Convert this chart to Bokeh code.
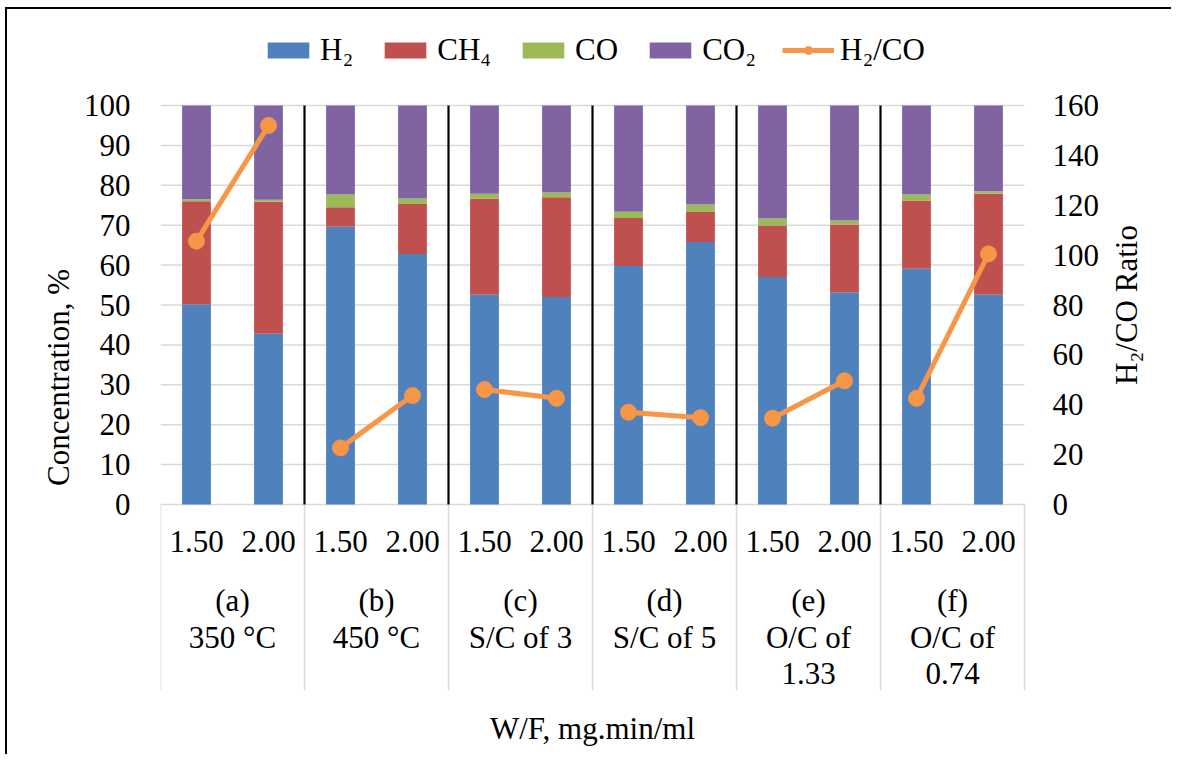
import math
from bokeh.plotting import figure
from bokeh.models import (Range1d, FixedTicker, ColumnDataSource,
                          Legend, LegendItem)
from bokeh.core.properties import value
from bokeh.embed import file_html
from bokeh.resources import INLINE

# ---------------- data ----------------
groups = ["(a)\n350 °C", "(b)\n450 °C", "(c)\nS/C of 3", "(d)\nS/C of 5",
          "(e)\nO/C of\n1.33", "(f)\nO/C of\n0.74"]
wf_labels = ["1.50", "2.00"]
h2 = [50.2, 42.8, 69.6, 62.8, 52.6, 52.0, 59.8, 65.8, 57.0, 53.2, 59.1, 52.6]
ch4 = [25.8, 33.1, 4.9, 12.5, 24.0, 25.0, 12.0, 7.5, 12.9, 17.0, 17.1, 25.3]
co = [0.5, 0.5, 3.2, 1.4, 1.3, 1.2, 1.6, 1.9, 1.8, 1.0, 1.5, 0.6]
co2 = [23.5, 23.6, 22.3, 23.3, 22.1, 21.8, 26.6, 24.8, 28.3, 28.8, 22.3, 21.5]
h2_co_ratio = [105.6, 152.0, 22.7, 43.7, 46.1, 42.6, 37.0, 34.8, 34.6, 49.6, 42.6, 100.5]
conc_ticks = list(range(0, 101, 10))
ratio_ticks = list(range(0, 161, 20))
ratio_title = "H₂/CO Ratio"
x_title = "W/F, mg.min/ml"

# ---------------- layout constants ----------------
FONT = "Liberation Serif"
FS = "31px"
GRID = "#d9d9d9"
W, H = 1171, 754                      # a little inside the 1177x760 window
FRAME_LEFT = 160
PLOT_RIGHT = 1024                     # right edge of the bar area
TABLE_BOTTOM = 690
FRAME_W = W - FRAME_LEFT
FRAME_H = H
PX_TOP, PX_ZERO = 105, 504            # page rows of 100 % and 0 %
ppu = (PX_ZERO - PX_TOP) / 100.0
y_max = 100 + PX_TOP / ppu
y_min = -(H - PX_ZERO) / ppu
ratio_scale = 160 / 100.0

n_groups = len(groups)
n_sub = len(wf_labels)
n_bars = n_groups * n_sub
xs = [i + 0.5 for i in range(n_bars)]
ppx = (PLOT_RIGHT - FRAME_LEFT) / n_bars   # pixels per category
x_max = n_bars + (W - PLOT_RIGHT) / ppx


def px_to_y(py):
    return (PX_ZERO - py) / ppu


def px_to_x(px):
    return (px - FRAME_LEFT) / ppx


p = figure(frame_width=FRAME_W, frame_height=FRAME_H,
           min_border_left=FRAME_LEFT, min_border_right=0,
           min_border_top=0, min_border_bottom=0,
           x_range=Range1d(0, x_max), y_range=Range1d(y_min, y_max),
           x_axis_location=None,
           output_backend="svg", toolbar_location=None)
# outer chart border (left and top edges), drawn behind the transparent canvas
p.styles = {"box-shadow": "inset 5px 7px 0 0 #fff, inset 7px 9px 0 0 #000",
            "background-color": "#fff"}
p.extra_y_ranges = {"ratio": Range1d(y_min * ratio_scale, y_max * ratio_scale)}
p.outline_line_color = None
p.background_fill_alpha = 0
p.border_fill_alpha = 0
p.xgrid.visible = False
p.ygrid.visible = False

# horizontal grid lines (0..100 %) over the bar area only
p.segment(x0=[0] * len(conc_ticks), y0=conc_ticks,
          x1=[n_bars] * len(conc_ticks), y1=conc_ticks,
          line_color=GRID, line_width=1.5)

# left axis
ya = p.yaxis[0]
ya.ticker = FixedTicker(ticks=conc_ticks)
ya.bounds = (0, 100)
ya.axis_line_color = None
ya.major_tick_line_color = None
ya.minor_tick_line_color = None
ya.major_label_text_font = FONT
ya.major_label_text_font_size = FS
ya.major_label_text_color = "black"
ya.major_label_standoff = 24
ya.axis_label = "Concentration, %"
ya.axis_label_text_font = FONT
ya.axis_label_text_font_size = FS
ya.axis_label_text_font_style = "normal"
ya.axis_label_text_color = "black"
ya.axis_label_standoff = 5

# right (secondary) axis, drawn on the "ratio" scale
p.text(x=[px_to_x(PLOT_RIGHT + 28)] * len(ratio_ticks), y=ratio_ticks,
       text=[str(t) for t in ratio_ticks], y_range_name="ratio",
       text_font=value(FONT), text_font_size=FS, text_color="black",
       text_align="left", text_baseline="middle")
p.text(x=[px_to_x(1126)], y=[(ratio_ticks[0] + ratio_ticks[-1]) / 2],
       text=[ratio_title], y_range_name="ratio", angle=math.pi / 2,
       text_font=value(FONT), text_font_size=FS, text_color="black",
       text_align="center", text_baseline="middle")

# x-axis title, centred under the bar area
p.text(x=[n_bars / 2], y=[px_to_y(728)], text=[x_title],
       text_font=value(FONT), text_font_size=FS, text_color="black",
       text_align="center", text_baseline="middle")

# category table lines
bounds = [g * n_sub for g in range(n_groups + 1)]
y_table = px_to_y(TABLE_BOTTOM)
p.segment(x0=bounds, y0=[0] * len(bounds), x1=bounds, y1=[y_table] * len(bounds),
          line_color=GRID, line_width=1.5)

# bars
src = ColumnDataSource(dict(x=xs, h2=h2, ch4=ch4, co=co, co2=co2))
colors = ["#4f81bd", "#c0504d", "#9bbb59", "#8064a2"]
bars = p.vbar_stack(["h2", "ch4", "co", "co2"], x="x", width=0.4, color=colors,
                    line_color=None, source=src)

# black separators between groups
seps = bounds[1:-1]
p.segment(x0=seps, y0=[0] * len(seps), x1=seps, y1=[100] * len(seps),
          line_color="black", line_width=2.2)

# ratio line (one segment per group)
lx, ly = [], []
for g in range(n_groups):
    for s in range(n_sub):
        lx.append(xs[g * n_sub + s])
        ly.append(h2_co_ratio[g * n_sub + s])
    lx.append(float("nan"))
    ly.append(float("nan"))
OR = "#f79646"
rl = p.line(lx, ly, y_range_name="ratio", line_color=OR, line_width=5)
rs = p.scatter(xs, h2_co_ratio, y_range_name="ratio", size=16, color=OR)

# category labels
p.text(x=xs, y=[px_to_y(541)] * n_bars, text=wf_labels * n_groups,
       text_font=value(FONT), text_font_size=FS, text_color="black",
       text_align="center", text_baseline="middle")
gx, gy, gt = [], [], []
for g, lab in enumerate(groups):
    for k, line in enumerate(lab.split("\n")):
        gx.append(g * n_sub + n_sub / 2)
        gy.append(px_to_y(600 + 36.5 * k))
        gt.append(line)
p.text(x=gx, y=gy, text=gt, text_font=value(FONT), text_font_size=FS,
       text_color="black", text_align="center", text_baseline="middle")

# legend
legend = Legend(items=[LegendItem(label="H₂", renderers=[bars[0]]),
                       LegendItem(label="CH₄", renderers=[bars[1]]),
                       LegendItem(label="CO", renderers=[bars[2]]),
                       LegendItem(label="CO₂", renderers=[bars[3]]),
                       LegendItem(label="H₂/CO", renderers=[rl, rs])],
                orientation="horizontal",
                location=(262 - FRAME_LEFT, H - 68),
                label_text_font=FONT, label_text_font_size=FS,
                label_text_color="black",
                glyph_width=52, glyph_height=20, label_standoff=6,
                spacing=26, padding=0, margin=0,
                border_line_color=None, background_fill_alpha=0)
p.add_layout(legend)

open("out.html", "w").write(file_html(p, INLINE))
